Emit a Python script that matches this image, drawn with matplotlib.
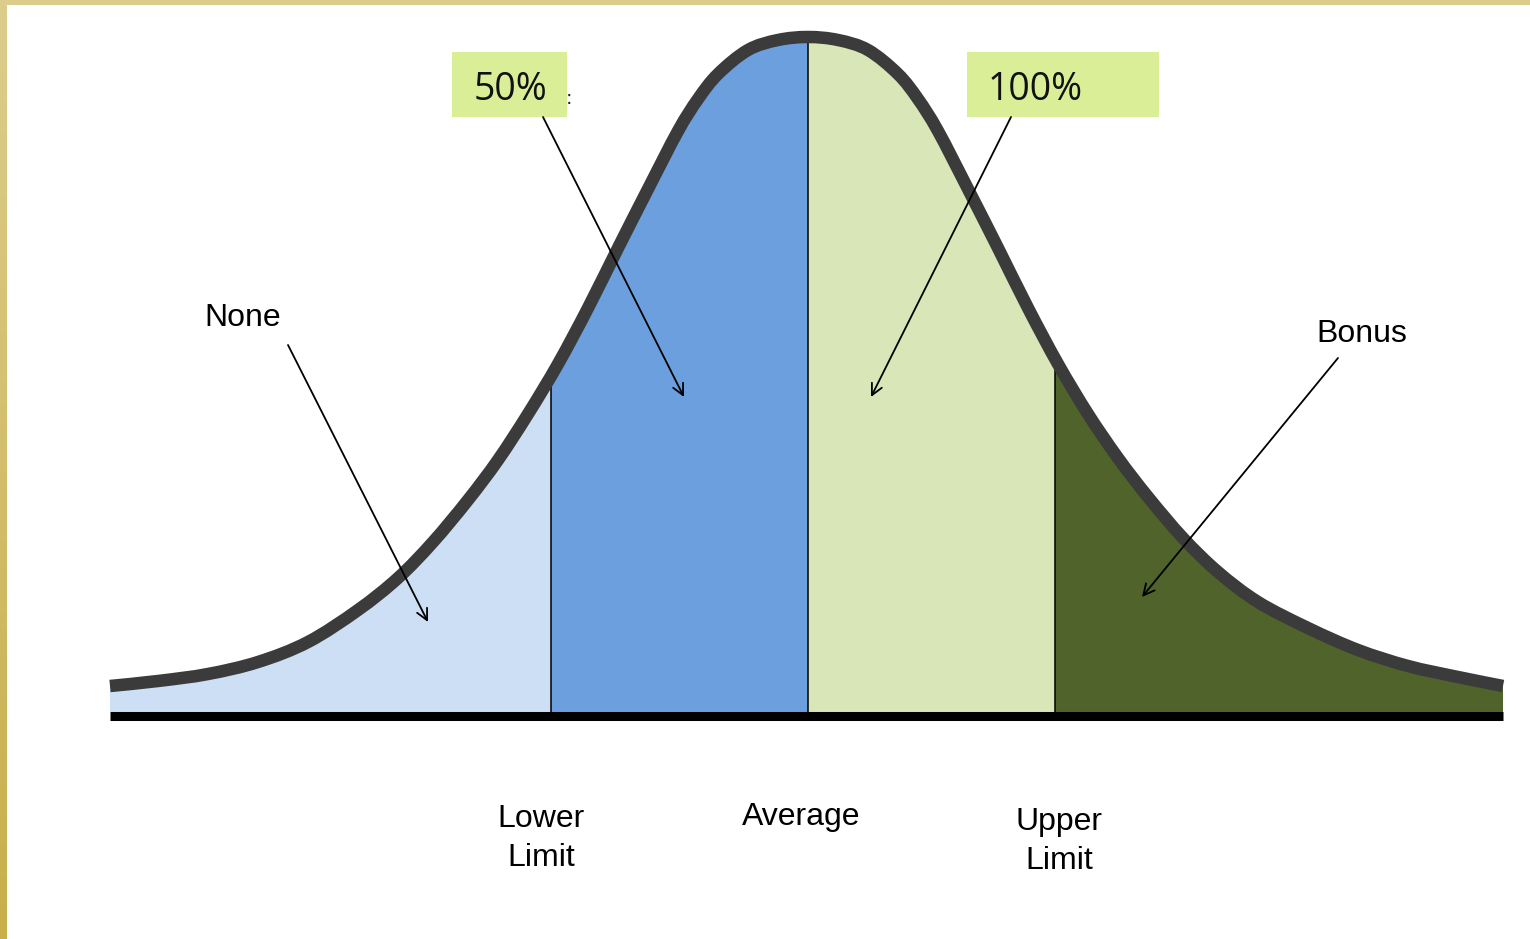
import numpy as np
import matplotlib.pyplot as plt
from matplotlib.patches import Rectangle, PathPatch
from matplotlib.path import Path

# bell curve: position relative to average, height above baseline
curve_x = [-6.98, -6.50, -6.00, -5.50, -5.00, -4.50, -4.10, -3.75, -3.40, -3.10,
           -2.80, -2.50, -2.20, -1.90, -1.60, -1.30, -1.10, -0.90, -0.60, -0.30,
           0.00, 0.30, 0.60, 0.90, 1.10, 1.30, 1.60, 1.90, 2.20, 2.50,
           2.80, 3.10, 3.40, 3.75, 4.10, 4.50, 5.00, 5.50, 6.00, 6.50, 6.95]
curve_h = [0.26, 0.31, 0.38, 0.50, 0.70, 1.02, 1.34, 1.70, 2.12, 2.52,
           2.98, 3.48, 4.04, 4.64, 5.23, 5.81, 6.13, 6.38, 6.62, 6.72,
           6.75, 6.72, 6.62, 6.38, 6.13, 5.81, 5.23, 4.64, 4.04, 3.48,
           2.98, 2.54, 2.15, 1.74, 1.40, 1.10, 0.84, 0.62, 0.46, 0.35, 0.26]

lower_limit = -2.57
average = 0.0
upper_limit = 2.47

zone_colors = ["#CCDFF5", "#6C9FDE", "#D8E6B8", "#50632A"]
limit_labels = ["Lower\nLimit", "Average", "Upper\nLimit"]
box_labels = ["50%", "100%"]
side_labels = ["None", "Bonus"]


def smooth_path(px, py):
    # bezier segments through the read points (catmull-rom style handles)
    pts = np.column_stack([px, py])
    n = len(pts)
    verts = [pts[0]]
    codes = [Path.MOVETO]
    for i in range(n - 1):
        p0 = pts[i - 1] if i > 0 else pts[i]
        p3 = pts[i + 2] if i + 2 < n else pts[i + 1]
        verts += [pts[i] + (pts[i + 1] - p0) / 6, pts[i + 1] - (p3 - pts[i]) / 6, pts[i + 1]]
        codes += [Path.CURVE4] * 3
    return verts, codes


fig = plt.figure(figsize=(15.3, 9.39), dpi=100)
ax = fig.add_axes([0, 0, 1, 1])
ax.set_xlim(-8.08, 7.22)
ax.set_ylim(-2.27, 7.12)
ax.axis("off")

verts, codes = smooth_path(curve_x, curve_h)
area = PathPatch(Path(verts + [(curve_x[-1], 0), (curve_x[0], 0), (curve_x[0], 0)],
                      codes + [Path.LINETO, Path.LINETO, Path.CLOSEPOLY]),
                 facecolor="none", edgecolor="none")
ax.add_patch(area)

# coloured zones under the curve
edges = [curve_x[0], lower_limit, average, upper_limit, curve_x[-1]]
top = max(curve_h) + 0.2
for i in range(4):
    zone = ax.fill_between([edges[i], edges[i + 1]], 0, top, color=zone_colors[i], lw=0, zorder=1)
    zone.set_clip_path(area)

dividers = ax.vlines([lower_limit, average, upper_limit], 0, top, color="black", lw=1.1, zorder=2)
dividers.set_clip_path(area)

ax.add_patch(PathPatch(Path(verts, codes), facecolor="none", edgecolor="#3B3B3B", lw=9,
                       capstyle="butt", joinstyle="round", zorder=3))
ax.plot([curve_x[0], curve_x[-1]], [-0.035, -0.035], color="black", lw=6.5,
        solid_capstyle="butt", zorder=4)

# labels under the baseline
lab_font = dict(family="Liberation Sans", fontsize=23, color="black")
ax.text(-2.67, -1.54, limit_labels[0], ha="center", va="baseline", linespacing=1.38, **lab_font)
ax.text(-0.07, -1.13, limit_labels[1], ha="center", va="baseline", **lab_font)
ax.text(2.51, -1.57, limit_labels[2], ha="center", va="baseline", linespacing=1.38, **lab_font)

ax.text(-5.65, 3.86, side_labels[0], ha="center", va="baseline", **lab_font)
ax.text(5.54, 3.70, side_labels[1], ha="center", va="baseline", **lab_font)

# green boxes at the top
ax.add_patch(Rectangle((-3.56, 5.95), 1.15, 0.65, color="#DAEE98", lw=0, zorder=5))
ax.add_patch(Rectangle((1.59, 5.95), 1.92, 0.65, color="#DAEE98", lw=0, zorder=5))
ax.text(-2.98, 6.12, box_labels[0], ha="center", va="baseline", family="Open Sans",
        fontsize=27, color="#111111", zorder=6)
ax.text(1.80, 6.12, box_labels[1], ha="left", va="baseline", family="Open Sans",
        fontsize=27, color="#111111", zorder=6)
ax.text(-2.395, 6.08, ":", ha="center", va="baseline", fontsize=14, color="#222222", zorder=6)

arrows = [((-5.20, 3.67), (-3.80, 0.90)),
          ((-2.65, 5.95), (-1.24, 3.15)),
          ((2.03, 5.95), (0.63, 3.15)),
          ((5.30, 3.54), (3.34, 1.15))]
for start, end in arrows:
    ax.annotate("", xy=end, xytext=start,
                arrowprops=dict(arrowstyle="->", color="black", lw=1.3,
                                mutation_scale=20, shrinkA=0, shrinkB=0),
                zorder=7)

# gold frame on the top and left edge
fig.patches.append(Rectangle((0, 1 - 5 / 939), 1, 5 / 939, transform=fig.transFigure,
                             color="#DCCD8C", lw=0, zorder=10))
bar = fig.add_axes([0, 0, 7 / 1530, 1 - 5 / 939])
grad = np.linspace(0, 1, 256).reshape(-1, 1)
top_c = np.array([0xDC, 0xCD, 0x8C]) / 255
bot_c = np.array([0xC8, 0xAF, 0x4A]) / 255
bar.imshow(top_c + grad[:, :, None] * (bot_c - top_c), aspect="auto")
bar.axis("off")

fig.savefig("out.png", dpi=100)
